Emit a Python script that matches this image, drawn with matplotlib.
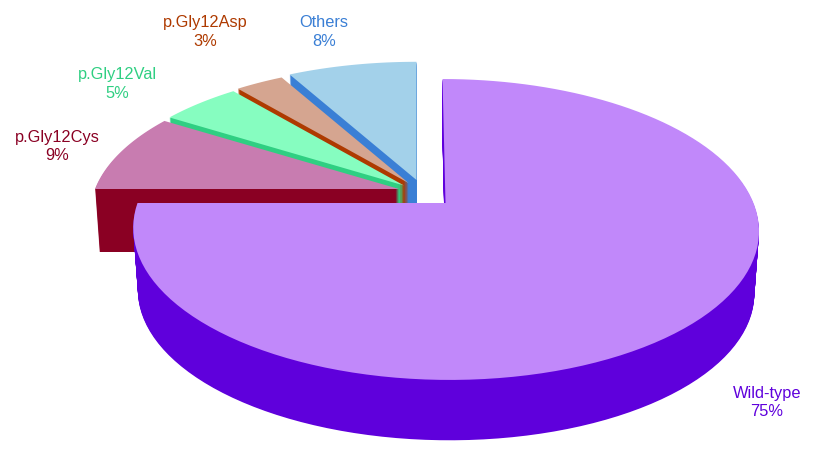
import numpy as np
import matplotlib
matplotlib.use('Agg')
import matplotlib.pyplot as plt

plt.rcParams['font.family'] = ['Liberation Sans', 'DejaVu Sans']

labels = ['Wild-type', 'p.Gly12Cys', 'p.Gly12Val', 'p.Gly12Asp', 'Others']
percents = [75, 9, 5, 3, 8]
face_colors = ['#C188FA', '#C87CB0', '#86FDC0', '#D5A590', '#A3D1EA']
wall_colors = ['#5F00DC', '#8A0023', '#2FCF82', '#AE3A00', '#3A7FD5']

# where each slice's tip sits, everything else is worked out from the percents
tips = [(445.5, 203), (399, 189), (404, 185.5), (408.5, 183), (416.5, 180)]
radii = [(308, 145.8, -3.5), (304, 139, 0), (304, 139, 0), (304, 139, 0), (304, 139, 0)]
label_xy = [(767, 402.5), (57, 146.5), (117, 84), (205, 32), (324, 32)]

tilt = 0.176
depth = 63
shrink = 0.985


def outline(start, stop, radius):
    theta = np.radians(np.linspace(start, stop, 120) * 3.6)
    u = np.sin(theta)
    v = np.cos(theta)
    w = 1 + tilt * v
    rx, ry, shear = radius
    x = (rx * u + shear * v) / w
    y = -ry * v / w
    return np.r_[0, x, 0], np.r_[0, y, 0]


fig = plt.figure(figsize=(8.28, 4.59), dpi=100)
ax = fig.add_axes([0, 0, 1, 1])
ax.set_xlim(0, 828)
ax.set_ylim(459, 0)
ax.axis('off')

edges = np.cumsum([0] + percents)

# back slices first, wild-type last so it sits on top
for i in [4, 3, 2, 1, 0]:
    x, y = outline(edges[i], edges[i + 1], radii[i])
    x0, y0 = tips[i]
    # wall is the face stacked downwards one pixel at a time
    for d in np.arange(depth, 0, -1.0):
        s = 1 - (1 - shrink) * d / depth
        ax.fill(x0 + x * s, y0 + y * s + d, color=wall_colors[i], lw=0)
    ax.fill(x0 + x, y0 + y, color=face_colors[i], lw=0)

for i in range(len(labels)):
    ax.text(label_xy[i][0], label_xy[i][1], labels[i] + '\n' + str(percents[i]) + '%',
            color=wall_colors[i], fontsize=11.8, ha='center', va='center', linespacing=1.28)

fig.savefig('out.png', dpi=100)
